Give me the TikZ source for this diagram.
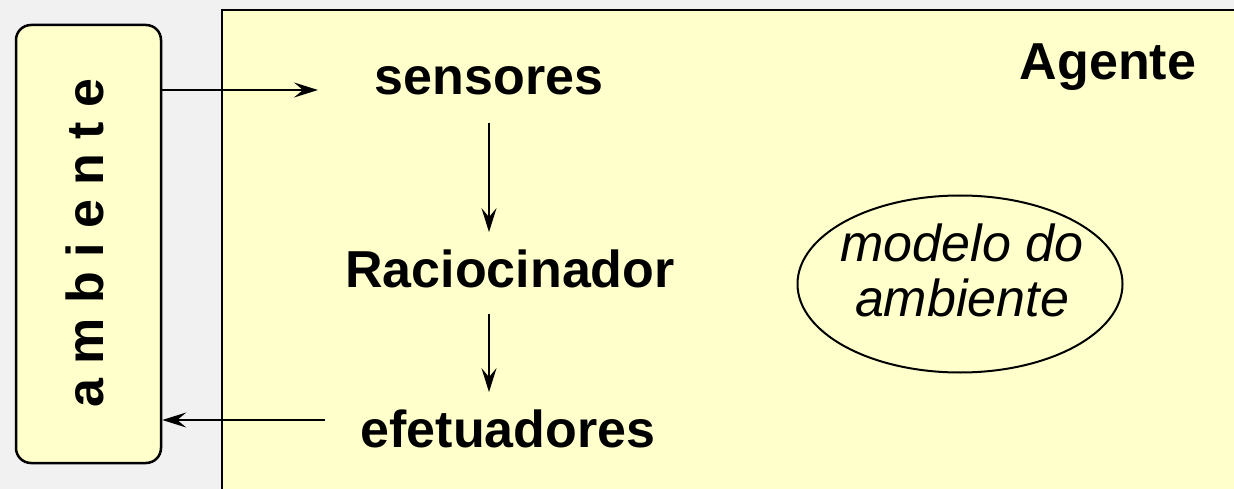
\documentclass[tikz,border=0pt]{standalone}
\usepackage{fontspec}
\setmainfont{Liberation Sans}
\usetikzlibrary{arrows.meta,shapes.geometric}
\definecolor{fundo}{RGB}{241,241,241}
\definecolor{amarelo}{RGB}{255,255,204}

\begin{document}
\begin{tikzpicture}
        % 结点样式名称/.style={形状,draw=颜色,fill=填充色,线宽,结点大小}
        [x=1pt,y=-1pt,
        AmbNode/.style={draw=black, fill=amarelo, line width=2.5pt, rounded corners=15pt, minimum width=145pt, minimum height=438pt, inner sep=0pt},
        TxtNode/.style={font=\fontsize{52}{58}\selectfont\bfseries, inner sep=0pt, anchor=base},
        ModNode/.style={ellipse, draw=black, fill=amarelo, line width=2pt, minimum width=325pt, minimum height=177pt, inner sep=0pt},
        seta/.style={-{Stealth[length=24pt,width=15pt,inset=9pt]}, line width=2pt}]

        % 背景
        \useasboundingbox (0,0) rectangle (1234,489);
        \fill[fundo] (0,0) rectangle (1234,489);

        % 添加Agente框
        \fill[amarelo] (222,10) rectangle (1240,495);
        \draw[line width=2.5pt] (222,495) -- (222,10) -- (1240,10);
        \node[TxtNode] (agente) at (1108,80) {Agente};

        % 添加ambiente框
        \node[AmbNode] (amb) at (88.5,244) {};
        \node[TxtNode, rotate=90] (ambTxt) at (103,243) {a m b i e n t e};

        % 添加文字结点
        \node[TxtNode] (sens) at (489,95) {sensores};
        \node[TxtNode] (racio) at (510,287) {Raciocinador};
        \node[TxtNode] (efet) at (508,447) {efetuadores};

        % 添加椭圆
        \node[ModNode] (modelo) at (960,284) {};
        \node[align=center, inner sep=0pt, font=\fontsize{52}{55}\selectfont\itshape] (modTxt) at (962,270) {modelo do\\ambiente};

        % 连线
        \coordinate (sIn) at (318,90);
        \coordinate (eOut) at (325,420);
        \draw[seta] (amb.east |- sIn) -- (sIn);
        \draw[seta] (eOut) -- (amb.east |- eOut);
        \draw[seta, shorten <=27pt, shorten >=17pt] (sens.south) -- (sens.south |- racio.north);
        \draw[seta, shorten <=26pt, shorten >=17pt] (sens.south |- racio.south) -- (sens.south |- efet.north);
\end{tikzpicture}
\end{document}
